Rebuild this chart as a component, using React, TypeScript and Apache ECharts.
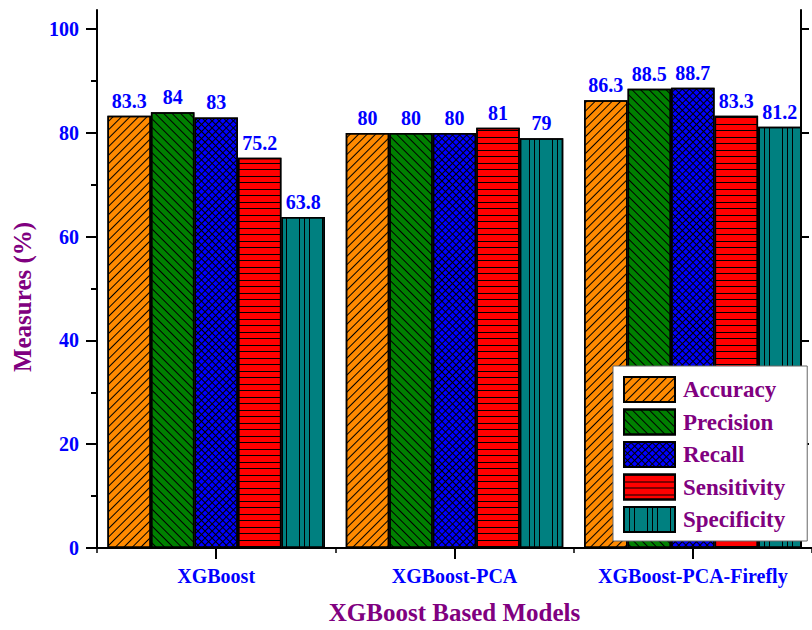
import React, { useEffect, useRef } from 'react';
import * as echarts from 'echarts';

const categories = ['XGBoost', 'XGBoost-PCA', 'XGBoost-PCA-Firefly'];
const seriesNames = ['Accuracy', 'Precision', 'Recall', 'Sensitivity', 'Specificity'];
const accuracy = [83.3, 80, 86.3];
const precision = [84, 80, 88.5];
const recall = [83, 80, 88.7];
const sensitivity = [75.2, 81, 83.3];
const specificity = [63.8, 79, 81.2];
const yMajorTicks = [0, 20, 40, 60, 80, 100];
const yMinorTicks = [10, 30, 50, 70, 90];

const FONT = 'Liberation Serif';
const BLUE = '#0000FF';
const PURPLE = '#800080';
const Y_MAX = 103.7;

const fills = ['#FF8A00', '#008000', '#0000FF', '#FF0000', '#008080'];
const decals: any[] = [
  { symbol: 'rect', symbolSize: 1, color: '#000', dashArrayX: [10, 0], dashArrayY: [1, 5], rotation: -Math.PI / 4 },
  { symbol: 'rect', symbolSize: 1, color: '#000', dashArrayX: [10, 0], dashArrayY: [1, 5], rotation: Math.PI / 4 },
  { symbol: 'rect', symbolSize: 1, color: '#000', dashArrayX: [[10, 0], [1, 4]], dashArrayY: [1, 0, 4, 0], rotation: Math.PI / 4 },
  { symbol: 'rect', symbolSize: 1, color: '#000', dashArrayX: [10, 0], dashArrayY: [1, 6, 1, 5] },
  { symbol: 'rect', symbolSize: 1, color: '#000', dashArrayX: [[1, 4, 1, 4, 1, 12]], dashArrayY: [10, 0] },
];

const seriesData = [accuracy, precision, recall, sensitivity, specificity];

export default function App() {
  const ref = useRef<HTMLDivElement>(null);
  useEffect(() => {
    const chart = echarts.init(ref.current!, null, { renderer: 'svg' });
    const option: any = {
      animation: false,
      backgroundColor: '#fff',
      grid: { left: 97, right: -9, top: 10, bottom: 80, containLabel: false },
      legend: {
        orient: 'vertical',
        left: 613,
        top: 366,
        padding: [10, 22, 8, 10],
        itemWidth: 51,
        itemHeight: 25,
        itemGap: 5.5,
        icon: 'rect',
        backgroundColor: '#fff',
        borderColor: '#666',
        borderWidth: 1,
        borderRadius: 0,
        textStyle: { color: PURPLE, fontSize: 23, fontWeight: 'bold', fontFamily: FONT, padding: [0, 0, 0, 3] },
        data: seriesNames,
      },
      xAxis: [
        {
          type: 'category',
          position: 'bottom',
          data: categories,
          axisLine: { show: true, lineStyle: { color: '#000', width: 2 } },
          axisTick: { show: true, alignWithLabel: true, length: 11, lineStyle: { color: '#000', width: 2 } },
          axisLabel: { color: BLUE, fontSize: 20, fontWeight: 'bold', fontFamily: FONT, margin: 18, interval: 0, hideOverlap: false },
          name: 'XGBoost Based Models',
          nameLocation: 'middle',
          nameGap: 52,
          nameTextStyle: { color: PURPLE, fontSize: 25, fontWeight: 'bold', fontFamily: FONT },
          splitLine: { show: false },
        },
        {
          type: 'category',
          position: 'bottom',
          data: categories,
          axisLine: { show: false },
          axisTick: { show: true, alignWithLabel: false, interval: 0, length: 5, lineStyle: { color: '#000', width: 1.5 } },
          axisLabel: { show: false },
          splitLine: { show: false },
        },
        {
          type: 'category',
          position: 'top',
          data: categories,
          axisLine: { show: true, lineStyle: { color: '#000', width: 2 } },
          axisTick: { show: false },
          axisLabel: { show: false },
          splitLine: { show: false },
        },
      ],
      yAxis: [
        {
          type: 'value',
          position: 'left',
          min: 0,
          max: Y_MAX,
          interval: 20,
          axisLine: { show: true, lineStyle: { color: '#000', width: 2 } },
          axisTick: { show: true, length: 11, customValues: yMajorTicks, lineStyle: { color: '#000', width: 2 } },
          axisLabel: { color: BLUE, fontSize: 20, fontWeight: 'bold', fontFamily: FONT, margin: 18, customValues: yMajorTicks },
          splitLine: { show: false },
          name: 'Measures (%)',
          nameLocation: 'middle',
          nameGap: 62,
          nameRotate: 90,
          nameTextStyle: { color: PURPLE, fontSize: 25, fontWeight: 'bold', fontFamily: FONT, padding: [0, 36, 0, 0] },
        },
        {
          type: 'value',
          position: 'left',
          min: 0,
          max: Y_MAX,
          interval: 20,
          axisLine: { show: false },
          axisTick: { show: true, length: 6, customValues: yMinorTicks, lineStyle: { color: '#000', width: 2 } },
          axisLabel: { show: false },
          splitLine: { show: false },
        },
        {
          type: 'value',
          position: 'right',
          offset: -11,
          min: 0,
          max: Y_MAX,
          interval: 20,
          axisLine: { show: true, lineStyle: { color: '#000', width: 2 } },
          axisTick: { show: true, length: 8, customValues: yMajorTicks, lineStyle: { color: '#000', width: 2 } },
          axisLabel: { show: false },
          splitLine: { show: false },
        },
      ],
      series: seriesNames.map((name, i) => ({
        name,
        type: 'bar',
        xAxisIndex: 0,
        yAxisIndex: 0,
        data: seriesData[i],
        barWidth: 43.5,
        barGap: '0%',
        itemStyle: { color: fills[i], borderColor: '#000', borderWidth: 1.5, decal: decals[i] },
        label: {
          show: true,
          position: 'top',
          distance: 5,
          color: BLUE,
          fontSize: 20,
          fontWeight: 'bold',
          fontFamily: FONT,
        },
      })),
    };
    chart.setOption(option);
    return () => chart.dispose();
  }, []);
  return (
    <div
      ref={ref}
      style={{ position: 'fixed', left: 0, top: 0, width: 812, height: 630, background: '#fff' }}
    />
  );
}
